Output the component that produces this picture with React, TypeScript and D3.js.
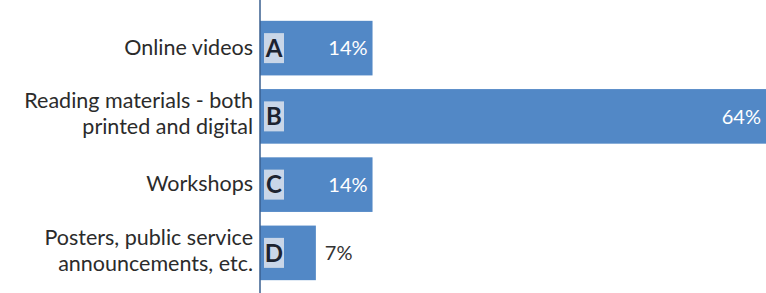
import React, { useEffect, useRef } from 'react';
import * as d3 from 'd3';

const letters = ['A', 'B', 'C', 'D'];
const categories = [
  ['Online videos'],
  ['Reading materials - both', 'printed and digital'],
  ['Workshops'],
  ['Posters, public service', 'announcements, etc.'],
];
const values = [14.3, 64.3, 14.3, 7.1];

const width = 766;
const height = 293;
const font = 'Lato, "Noto Sans", sans-serif';

const App = () => {
  const svgRef = useRef<SVGSVGElement>(null);

  useEffect(() => {
    const svg = d3.select(svgRef.current);
    svg.selectAll('*').remove();

    const margin = { top: 14, right: 0, bottom: 6, left: 260 };
    const innerWidth = width - margin.left - margin.right;
    const innerHeight = height - margin.top - margin.bottom;

    const g = svg.append('g').attr('transform', `translate(${margin.left},${margin.top})`);

    const y = d3.scaleBand<string>()
      .domain(letters)
      .range([0, innerHeight])
      .paddingInner(0.2)
      .paddingOuter(0.1);

    const x = d3.scaleLinear().domain([0, 64.3]).range([0, innerWidth]);
    const fmt = d3.format('.0f');

    // Bars
    g.selectAll('rect.bar')
      .data(values)
      .enter()
      .append('rect')
      .attr('class', 'bar')
      .attr('x', 0)
      .attr('y', (d, i) => y(letters[i])!)
      .attr('width', d => x(d))
      .attr('height', y.bandwidth())
      .attr('fill', '#5288c6');

    // Letter boxes
    letters.forEach((l, i) => {
      const cy = y(l)! + y.bandwidth() / 2;
      g.append('rect')
        .attr('x', 4)
        .attr('y', cy - 15)
        .attr('width', 20)
        .attr('height', 30)
        .attr('fill', '#c9d6e8');
      g.append('text')
        .attr('x', 14)
        .attr('y', cy)
        .attr('dy', '0.36em')
        .attr('text-anchor', 'middle')
        .style('font-family', font)
        .style('font-weight', 'bold')
        .style('font-size', '24px')
        .attr('fill', '#1c2330')
        .text(l);
    });

    // Value labels
    values.forEach((v, i) => {
      const cy = y(letters[i])! + y.bandwidth() / 2;
      const inside = x(v) > 80;
      g.append('text')
        .attr('x', inside ? x(v) - 5 : x(v) + 9)
        .attr('y', cy)
        .attr('dy', '0.36em')
        .attr('text-anchor', inside ? 'end' : 'start')
        .style('font-family', font)
        .style('font-size', '20px')
        .attr('fill', inside ? '#ffffff' : '#333333')
        .text(`${fmt(v)}%`);
    });

    // Category labels
    categories.forEach((lines, i) => {
      const cy = y(letters[i])! + y.bandwidth() / 2 - (lines.length > 1 ? 3 : 1);
      const lh = 26;
      const t = svg.append('text')
        .attr('text-anchor', 'end')
        .style('font-family', font)
        .style('font-size', '21.5px')
        .attr('fill', '#2b2b2b');
      lines.forEach((line, j) => {
        t.append('tspan')
          .attr('x', margin.left - 7)
          .attr('y', margin.top + cy + (j - (lines.length - 1) / 2) * lh)
          .attr('dy', '0.36em')
          .text(line);
      });
    });

    // Axis line
    svg.append('line')
      .attr('x1', margin.left)
      .attr('x2', margin.left)
      .attr('y1', 0)
      .attr('y2', height)
      .attr('stroke', '#3a5f8f')
      .attr('stroke-width', 1.5);
  }, []);

  return (
    <svg
      ref={svgRef}
      width={width}
      height={height}
      style={{ position: 'absolute', left: 0, top: 0, background: '#fff' }}
    />
  );
};

export default App;
